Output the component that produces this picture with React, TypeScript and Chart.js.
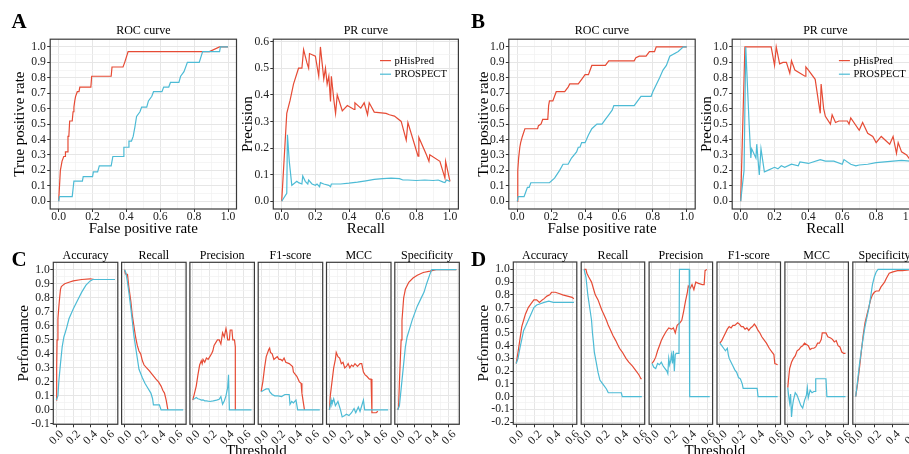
import React, { useEffect, useRef } from "react";
import { Chart, registerables } from "chart.js";

Chart.register(...registerables);

type Pt = [number, number];

// ================= DATA =================
// Panel A – ROC
const A_ROC_PHISPRED: Pt[] = [[0,0],[0.005,0.1],[0.01,0.2],[0.015,0.23],[0.02,0.26],[0.03,0.29],[0.04,0.29],[0.04,0.32],[0.05,0.32],[0.055,0.42],[0.06,0.42],[0.065,0.52],[0.08,0.52],[0.085,0.58],[0.09,0.61],[0.095,0.65],[0.1,0.68],[0.11,0.71],[0.12,0.71],[0.125,0.74],[0.19,0.74],[0.195,0.81],[0.31,0.81],[0.315,0.87],[0.38,0.87],[0.39,0.9],[0.41,0.97],[0.89,0.97],[0.95,1.0],[1.0,1.0]];
const A_ROC_PROSPECT: Pt[] = [[0,0],[0.005,0.03],[0.08,0.03],[0.09,0.13],[0.14,0.13],[0.145,0.16],[0.2,0.16],[0.205,0.19],[0.23,0.19],[0.24,0.23],[0.31,0.23],[0.32,0.29],[0.38,0.29],[0.385,0.35],[0.41,0.35],[0.415,0.39],[0.43,0.39],[0.44,0.42],[0.45,0.48],[0.46,0.55],[0.48,0.58],[0.49,0.61],[0.52,0.61],[0.53,0.65],[0.55,0.68],[0.56,0.71],[0.61,0.71],[0.62,0.74],[0.65,0.74],[0.66,0.77],[0.71,0.77],[0.72,0.81],[0.74,0.84],[0.76,0.9],[0.83,0.9],[0.85,0.97],[0.95,0.97],[0.955,1.0],[1.0,1.0]];
// Panel A – PR
const A_PR_PHISPRED: Pt[] = [[0,0],[0.03,0.33],[0.05,0.38],[0.07,0.44],[0.1,0.5],[0.12,0.5],[0.13,0.57],[0.15,0.52],[0.16,0.5],[0.165,0.555],[0.2,0.545],[0.22,0.47],[0.23,0.58],[0.24,0.52],[0.25,0.46],[0.26,0.5],[0.27,0.44],[0.28,0.47],[0.29,0.375],[0.295,0.47],[0.31,0.38],[0.32,0.33],[0.33,0.4],[0.36,0.34],[0.39,0.36],[0.43,0.345],[0.435,0.37],[0.47,0.35],[0.49,0.37],[0.51,0.325],[0.52,0.37],[0.55,0.335],[0.62,0.33],[0.64,0.325],[0.67,0.32],[0.71,0.3],[0.74,0.23],[0.75,0.296],[0.81,0.17],[0.815,0.24],[0.86,0.175],[0.875,0.15],[0.88,0.175],[0.94,0.15],[0.97,0.087],[0.974,0.15],[1.0,0.075]];
const A_PR_PROSPECT: Pt[] = [[0,0],[0.03,0.03],[0.034,0.25],[0.045,0.15],[0.06,0.06],[0.07,0.065],[0.09,0.075],[0.1,0.07],[0.12,0.065],[0.125,0.095],[0.14,0.075],[0.155,0.065],[0.16,0.08],[0.18,0.065],[0.2,0.06],[0.21,0.065],[0.225,0.055],[0.23,0.07],[0.25,0.065],[0.28,0.06],[0.29,0.055],[0.295,0.065],[0.35,0.065],[0.4,0.068],[0.45,0.072],[0.5,0.077],[0.55,0.082],[0.6,0.085],[0.65,0.087],[0.7,0.085],[0.72,0.08],[0.75,0.08],[0.8,0.078],[0.85,0.08],[0.9,0.078],[0.93,0.08],[0.96,0.072],[0.97,0.07],[0.98,0.08],[1.0,0.075]];
// Panel B – ROC
const B_ROC_PHISPRED: Pt[] = [[0,0],[0.003,0.2],[0.008,0.28],[0.015,0.35],[0.02,0.38],[0.03,0.42],[0.045,0.47],[0.12,0.47],[0.125,0.49],[0.14,0.5],[0.15,0.53],[0.18,0.53],[0.185,0.62],[0.19,0.65],[0.21,0.65],[0.22,0.68],[0.23,0.71],[0.28,0.71],[0.3,0.74],[0.31,0.76],[0.36,0.76],[0.38,0.79],[0.4,0.82],[0.42,0.82],[0.43,0.85],[0.44,0.88],[0.52,0.88],[0.54,0.91],[0.69,0.91],[0.7,0.93],[0.72,0.94],[0.76,0.94],[0.78,0.97],[0.81,0.97],[0.82,1.0],[1.0,1.0]];
const B_ROC_PROSPECT: Pt[] = [[0,0],[0.005,0.03],[0.04,0.03],[0.05,0.06],[0.06,0.09],[0.07,0.09],[0.08,0.12],[0.19,0.12],[0.22,0.15],[0.25,0.2],[0.27,0.24],[0.3,0.24],[0.32,0.28],[0.35,0.32],[0.36,0.35],[0.37,0.35],[0.38,0.38],[0.4,0.38],[0.42,0.43],[0.44,0.47],[0.47,0.5],[0.5,0.5],[0.52,0.53],[0.54,0.56],[0.56,0.59],[0.57,0.62],[0.69,0.62],[0.73,0.68],[0.79,0.68],[0.8,0.71],[0.84,0.8],[0.86,0.85],[0.88,0.88],[0.9,0.94],[0.95,0.97],[0.98,1.0],[1.0,1.0]];
// Panel B – PR
const B_PR_PHISPRED: Pt[] = [[0,0],[0.025,1.0],[0.18,1.0],[0.2,0.88],[0.21,1.0],[0.23,0.89],[0.25,0.9],[0.27,0.9],[0.29,0.83],[0.3,0.91],[0.32,0.85],[0.38,0.81],[0.385,0.87],[0.4,0.85],[0.44,0.79],[0.46,0.64],[0.47,0.57],[0.475,0.76],[0.49,0.6],[0.5,0.55],[0.53,0.5],[0.54,0.56],[0.56,0.51],[0.58,0.52],[0.63,0.52],[0.64,0.5],[0.65,0.54],[0.7,0.46],[0.72,0.51],[0.75,0.44],[0.78,0.42],[0.8,0.38],[0.83,0.42],[0.88,0.37],[0.9,0.42],[0.92,0.31],[0.93,0.38],[0.95,0.32],[0.98,0.3],[1.0,0.27]];
const B_PR_PROSPECT: Pt[] = [[0,0],[0.02,0.2],[0.03,1.0],[0.05,0.5],[0.06,0.28],[0.065,0.34],[0.09,0.28],[0.095,0.37],[0.11,0.17],[0.12,0.34],[0.14,0.19],[0.16,0.2],[0.2,0.22],[0.22,0.21],[0.24,0.23],[0.26,0.22],[0.3,0.24],[0.34,0.23],[0.35,0.255],[0.4,0.245],[0.47,0.27],[0.5,0.26],[0.55,0.26],[0.6,0.24],[0.61,0.27],[0.65,0.24],[0.68,0.23],[0.7,0.235],[0.75,0.24],[0.8,0.25],[0.9,0.26],[0.95,0.265],[1.0,0.26]];

// Panel C – metrics vs threshold
const C_ACC_PHISPRED: Pt[] = [[0,0.07],[0.005,0.3],[0.01,0.5],[0.02,0.65],[0.03,0.73],[0.04,0.8],[0.05,0.86],[0.06,0.88],[0.08,0.89],[0.1,0.9],[0.15,0.91],[0.2,0.92],[0.3,0.93],[0.4,0.935],[0.45,0.93],[0.69,0.93]];
const C_ACC_PROSPECT: Pt[] = [[0,0.07],[0.02,0.1],[0.03,0.2],[0.05,0.33],[0.07,0.45],[0.09,0.52],[0.12,0.58],[0.15,0.65],[0.2,0.72],[0.25,0.78],[0.3,0.84],[0.35,0.89],[0.4,0.92],[0.43,0.93],[0.69,0.93]];
const C_REC_PHISPRED: Pt[] = [[0,1],[0.01,0.97],[0.035,0.965],[0.05,0.88],[0.075,0.77],[0.09,0.68],[0.11,0.6],[0.13,0.52],[0.15,0.46],[0.17,0.42],[0.19,0.4],[0.21,0.35],[0.23,0.32],[0.26,0.3],[0.29,0.28],[0.33,0.25],[0.37,0.22],[0.4,0.2],[0.43,0.17],[0.45,0.14],[0.47,0.12],[0.49,0.07],[0.51,0.0]];
const C_REC_PROSPECT: Pt[] = [[0,1],[0.015,0.98],[0.03,0.93],[0.055,0.82],[0.075,0.72],[0.094,0.62],[0.11,0.53],[0.13,0.45],[0.15,0.37],[0.17,0.29],[0.19,0.26],[0.21,0.23],[0.24,0.19],[0.27,0.16],[0.31,0.12],[0.33,0.08],[0.34,0.036],[0.41,0.036],[0.43,0],[0.69,0]];
const C_PRE_PHISPRED: Pt[] = [[0,0.07],[0.02,0.12],[0.04,0.17],[0.06,0.25],[0.08,0.32],[0.1,0.35],[0.11,0.33],[0.12,0.36],[0.14,0.34],[0.16,0.37],[0.18,0.36],[0.2,0.38],[0.22,0.4],[0.235,0.42],[0.25,0.46],[0.27,0.48],[0.29,0.5],[0.31,0.5],[0.33,0.47],[0.35,0.55],[0.37,0.52],[0.39,0.58],[0.4,0.55],[0.41,0.5],[0.43,0.5],[0.44,0.57],[0.46,0.57],[0.47,0.5],[0.49,0.5],[0.5,0.45],[0.5,0]];
const C_PRE_PROSPECT: Pt[] = [[0,0.076],[0.02,0.08],[0.04,0.088],[0.06,0.08],[0.08,0.076],[0.1,0.07],[0.12,0.072],[0.14,0.065],[0.16,0.064],[0.2,0.06],[0.24,0.064],[0.28,0.07],[0.31,0.076],[0.33,0.095],[0.35,0.04],[0.37,0.064],[0.39,0.1],[0.41,0.16],[0.42,0.25],[0.43,0],[0.69,0]];
const C_F1_PHISPRED: Pt[] = [[0,0.13],[0.02,0.2],[0.04,0.3],[0.06,0.38],[0.09,0.43],[0.1,0.44],[0.11,0.41],[0.13,0.4],[0.15,0.36],[0.17,0.37],[0.19,0.38],[0.21,0.36],[0.23,0.36],[0.25,0.35],[0.27,0.37],[0.29,0.34],[0.33,0.33],[0.37,0.31],[0.38,0.27],[0.42,0.24],[0.45,0.2],[0.47,0.19],[0.48,0.12],[0.5,0.04],[0.51,0]];
const C_F1_PROSPECT: Pt[] = [[0,0.13],[0.03,0.14],[0.06,0.15],[0.09,0.15],[0.1,0.13],[0.13,0.11],[0.16,0.1],[0.2,0.1],[0.24,0.095],[0.28,0.11],[0.33,0.11],[0.34,0.04],[0.36,0.06],[0.38,0.05],[0.41,0.07],[0.43,0.0],[0.69,0]];
const C_MCC_PHISPRED: Pt[] = [[0,0],[0.01,0.1],[0.03,0.2],[0.05,0.3],[0.07,0.36],[0.08,0.41],[0.1,0.38],[0.12,0.37],[0.14,0.33],[0.16,0.34],[0.18,0.3],[0.2,0.31],[0.22,0.33],[0.24,0.3],[0.26,0.32],[0.28,0.31],[0.3,0.33],[0.33,0.31],[0.36,0.33],[0.38,0.33],[0.4,0.27],[0.42,0.25],[0.44,0.24],[0.47,0.22],[0.49,0.22],[0.5,-0.02],[0.55,-0.02],[0.57,-0.01]];
const C_MCC_PROSPECT: Pt[] = [[0,0],[0.02,0.07],[0.03,0.04],[0.05,0.08],[0.07,0.03],[0.1,0.06],[0.13,0.0],[0.15,-0.05],[0.18,-0.04],[0.2,-0.03],[0.23,-0.04],[0.26,-0.02],[0.29,0.01],[0.31,-0.02],[0.34,0.02],[0.36,-0.01],[0.38,0.03],[0.4,0.07],[0.415,0.0],[0.69,0.0]];
const C_SPE_PHISPRED: Pt[] = [[0,0],[0.01,0.02],[0.02,0.2],[0.03,0.35],[0.04,0.5],[0.05,0.64],[0.07,0.8],[0.09,0.86],[0.13,0.91],[0.18,0.94],[0.23,0.96],[0.3,0.98],[0.38,0.99],[0.45,1.0],[0.69,1.0]];
const C_SPE_PROSPECT: Pt[] = [[0,0],[0.02,0.03],[0.04,0.15],[0.07,0.33],[0.09,0.45],[0.11,0.52],[0.14,0.58],[0.17,0.64],[0.2,0.69],[0.23,0.74],[0.27,0.79],[0.31,0.84],[0.34,0.9],[0.38,0.97],[0.4,1.0],[0.69,1.0]];

// Panel D – metrics vs threshold
const D_ACC_PHISPRED: Pt[] = [[0,0.26],[0.02,0.35],[0.04,0.45],[0.06,0.55],[0.08,0.6],[0.1,0.65],[0.13,0.7],[0.16,0.73],[0.19,0.76],[0.22,0.76],[0.25,0.74],[0.28,0.76],[0.3,0.77],[0.33,0.79],[0.36,0.8],[0.38,0.82],[0.42,0.82],[0.46,0.81],[0.5,0.8],[0.55,0.79],[0.6,0.78],[0.62,0.77]];
const D_ACC_PROSPECT: Pt[] = [[0,0.26],[0.02,0.3],[0.04,0.38],[0.06,0.45],[0.08,0.52],[0.1,0.55],[0.13,0.6],[0.16,0.65],[0.19,0.7],[0.22,0.72],[0.26,0.73],[0.3,0.74],[0.35,0.75],[0.4,0.74],[0.5,0.74],[0.62,0.74]];
const D_REC_PHISPRED: Pt[] = [[0,1],[0.02,1],[0.03,0.97],[0.05,0.94],[0.08,0.9],[0.1,0.85],[0.12,0.8],[0.15,0.76],[0.17,0.72],[0.19,0.68],[0.21,0.65],[0.24,0.6],[0.26,0.56],[0.28,0.53],[0.31,0.48],[0.34,0.44],[0.36,0.41],[0.38,0.38],[0.41,0.35],[0.45,0.3],[0.48,0.27],[0.52,0.24],[0.55,0.21],[0.59,0.17],[0.61,0.14],[0.62,0.14]];
const D_REC_PROSPECT: Pt[] = [[0,1],[0.02,0.94],[0.04,0.8],[0.06,0.7],[0.08,0.6],[0.09,0.5],[0.1,0.43],[0.11,0.35],[0.13,0.27],[0.15,0.19],[0.17,0.13],[0.19,0.11],[0.21,0.09],[0.24,0.06],[0.26,0.03],[0.4,0.03],[0.41,0],[0.62,0]];
const D_PRE_PHISPRED: Pt[] = [[0,0.26],[0.02,0.28],[0.04,0.31],[0.06,0.36],[0.08,0.4],[0.1,0.44],[0.12,0.47],[0.15,0.51],[0.18,0.54],[0.21,0.53],[0.23,0.54],[0.25,0.5],[0.27,0.56],[0.3,0.58],[0.32,0.6],[0.34,0.67],[0.36,0.75],[0.38,0.82],[0.39,0.87],[0.41,0.85],[0.43,0.88],[0.45,0.84],[0.47,0.9],[0.5,0.89],[0.54,0.88],[0.56,0.88],[0.57,0.99],[0.59,1.0]];
const D_PRE_PROSPECT: Pt[] = [[0,0.26],[0.02,0.23],[0.04,0.22],[0.06,0.26],[0.08,0.25],[0.1,0.27],[0.12,0.24],[0.14,0.22],[0.16,0.2],[0.17,0.18],[0.18,0.3],[0.19,0.25],[0.2,0.28],[0.21,0.33],[0.22,0.26],[0.23,0.36],[0.24,0.2],[0.25,0.33],[0.26,0.34],[0.29,0.34],[0.295,1.0],[0.4,1.0],[0.405,0],[0.62,0]];
const D_F1_PHISPRED: Pt[] = [[0,0.42],[0.02,0.44],[0.04,0.47],[0.06,0.5],[0.08,0.53],[0.1,0.55],[0.12,0.54],[0.14,0.56],[0.16,0.56],[0.19,0.58],[0.21,0.57],[0.23,0.55],[0.25,0.55],[0.27,0.53],[0.29,0.54],[0.31,0.52],[0.33,0.54],[0.35,0.55],[0.37,0.57],[0.39,0.55],[0.41,0.52],[0.43,0.5],[0.45,0.47],[0.48,0.44],[0.5,0.42],[0.53,0.38],[0.56,0.35],[0.58,0.33],[0.59,0.26],[0.62,0.25]];
const D_F1_PROSPECT: Pt[] = [[0,0.42],[0.02,0.4],[0.04,0.38],[0.06,0.36],[0.08,0.38],[0.09,0.33],[0.1,0.3],[0.12,0.27],[0.14,0.24],[0.16,0.21],[0.18,0.19],[0.2,0.15],[0.22,0.14],[0.24,0.1],[0.25,0.065],[0.4,0.065],[0.41,0],[0.62,0]];
const D_MCC_PHISPRED: Pt[] = [[0,0.07],[0.01,0.15],[0.02,0.22],[0.04,0.27],[0.06,0.3],[0.08,0.32],[0.1,0.36],[0.12,0.37],[0.14,0.39],[0.16,0.4],[0.18,0.42],[0.2,0.41],[0.22,0.4],[0.24,0.37],[0.26,0.38],[0.28,0.38],[0.3,0.39],[0.32,0.42],[0.34,0.42],[0.36,0.45],[0.37,0.5],[0.41,0.5],[0.43,0.47],[0.46,0.46],[0.48,0.45],[0.5,0.43],[0.52,0.44],[0.54,0.4],[0.56,0.39],[0.58,0.35],[0.6,0.34],[0.62,0.34]];
const D_MCC_PROSPECT: Pt[] = [[0,0.07],[0.01,0],[0.02,-0.05],[0.03,0.02],[0.04,-0.16],[0.05,-0.08],[0.06,-0.03],[0.08,0.03],[0.1,0.01],[0.12,-0.03],[0.14,-0.07],[0.16,-0.09],[0.18,-0.03],[0.2,0.01],[0.21,0.07],[0.22,-0.01],[0.24,0.05],[0.26,0.03],[0.28,0.04],[0.3,0.04],[0.3,0.14],[0.41,0.14],[0.42,0],[0.62,0]];
const D_SPE_PHISPRED: Pt[] = [[0,0],[0.02,0.1],[0.04,0.22],[0.06,0.35],[0.08,0.48],[0.1,0.58],[0.12,0.64],[0.14,0.7],[0.16,0.76],[0.18,0.8],[0.2,0.82],[0.22,0.83],[0.25,0.83],[0.27,0.86],[0.29,0.88],[0.31,0.9],[0.33,0.93],[0.36,0.97],[0.4,0.98],[0.45,0.99],[0.5,0.99],[0.62,1.0]];
const D_SPE_PROSPECT: Pt[] = [[0,0],[0.02,0.12],[0.04,0.25],[0.06,0.36],[0.08,0.46],[0.1,0.55],[0.12,0.62],[0.14,0.69],[0.16,0.78],[0.18,0.88],[0.2,0.94],[0.22,0.98],[0.24,1.0],[0.62,1.0]];

// ================= TICKS / LABELS =================
const UNIT_MAJOR_X = [0, 0.2, 0.4, 0.6, 0.8, 1.0];
const UNIT_MINOR_X = [0.1, 0.3, 0.5, 0.7, 0.9];
const UNIT_MAJOR_Y = [0, 0.1, 0.2, 0.3, 0.4, 0.5, 0.6, 0.7, 0.8, 0.9, 1.0];
const UNIT_MINOR_Y = [0.05, 0.15, 0.25, 0.35, 0.45, 0.55, 0.65, 0.75, 0.85, 0.95];
const PR_A_MAJOR_Y = [0, 0.1, 0.2, 0.3, 0.4, 0.5, 0.6];
const PR_A_MINOR_Y = [0.05, 0.15, 0.25, 0.35, 0.45, 0.55];
const FACET_MAJOR_X = [0, 0.2, 0.4, 0.6];
const C_MINOR_X = [0.1, 0.3, 0.5, 0.7];
const D_MINOR_X = [0.1, 0.3, 0.5];
const C_MAJOR_Y = [-0.1, 0, 0.1, 0.2, 0.3, 0.4, 0.5, 0.6, 0.7, 0.8, 0.9, 1.0];
const C_MINOR_Y = [-0.05, 0.05, 0.15, 0.25, 0.35, 0.45, 0.55, 0.65, 0.75, 0.85, 0.95];
const D_MAJOR_Y = [-0.2, -0.1, 0, 0.1, 0.2, 0.3, 0.4, 0.5, 0.6, 0.7, 0.8, 0.9, 1.0];
const D_MINOR_Y = [-0.15, -0.05, 0.05, 0.15, 0.25, 0.35, 0.45, 0.55, 0.65, 0.75, 0.85, 0.95];
const METRICS = ["Accuracy", "Recall", "Precision", "F1-score", "MCC", "Specificity"];
const SERIES_NAMES = ["pHisPred", "PROSPECT"];

const C_SERIES: [Pt[], Pt[]][] = [
  [C_ACC_PHISPRED, C_ACC_PROSPECT], [C_REC_PHISPRED, C_REC_PROSPECT], [C_PRE_PHISPRED, C_PRE_PROSPECT],
  [C_F1_PHISPRED, C_F1_PROSPECT], [C_MCC_PHISPRED, C_MCC_PROSPECT], [C_SPE_PHISPRED, C_SPE_PROSPECT],
];
const D_SERIES: [Pt[], Pt[]][] = [
  [D_ACC_PHISPRED, D_ACC_PROSPECT], [D_REC_PHISPRED, D_REC_PROSPECT], [D_PRE_PHISPRED, D_PRE_PROSPECT],
  [D_F1_PHISPRED, D_F1_PROSPECT], [D_MCC_PHISPRED, D_MCC_PROSPECT], [D_SPE_PHISPRED, D_SPE_PROSPECT],
];

// ================= STYLE =================
const RED = "#E64B35";
const CYAN = "#4DBBD5";
const SERIF = "'Liberation Serif', 'Times New Roman', Times, serif";
const GRID_MAJOR = "#E6E6E6";
const GRID_MINOR = "#F1F1F1";
const TICK_COLOR = "#333333";
const TICK_TEXT = "#222222";
const BORDER = "#3a3a3a";
const CW = 940;
const CH = 454;
const TICK_SIZE = 11.7;

interface Txt { text: string; x: number; y: number; size: number; bold?: boolean; align?: CanvasTextAlign; }
interface Panel {
  id: string;
  box: [number, number, number, number];
  xRange: [number, number];
  yRange: [number, number];
  xMajor: number[]; xMinor: number[];
  yMajor: number[]; yMinor: number[];
  red: Pt[]; cyan: Pt[];
  yLabels: boolean;
  yTitle?: string; yTitleX?: number;
  xTitle?: string; xTitleY?: number;
  rotateX?: boolean;
  heading: string; headingGap: number;
  legend?: boolean;
  texts?: Txt[];
}

const isMajor = (arr: number[], v: any) => typeof v === "number" && arr.some((m) => Math.abs(m - v) < 1e-9);

// ================= PANELS =================
const TOP_T = 39.2, TOP_B = 209;
const C_LEFT0 = 53.3, C_PITCH = 68.3, C_W = 64.5, C_TOP = 262.3, C_BOTTOM = 424.3;
const D_LEFT0 = 513.3, D_PITCH = 67.9, D_W = 63.5, D_TOP = 262, D_BOTTOM = 424.3;

const PANELS: Panel[] = [
  {
    id: "aroc", box: [50.2, TOP_T, 236.5, TOP_B], xRange: [-0.05, 1.05], yRange: [-0.05, 1.05],
    xMajor: UNIT_MAJOR_X, xMinor: UNIT_MINOR_X, yMajor: UNIT_MAJOR_Y, yMinor: UNIT_MINOR_Y,
    red: A_ROC_PHISPRED, cyan: A_ROC_PROSPECT, yLabels: true,
    yTitle: "True positive rate", yTitleX: 20, xTitle: "False positive rate", xTitleY: 229,
    heading: "ROC curve", headingGap: 5.7,
    texts: [{ text: "A", x: 11.5, y: 27.5, size: 21, bold: true }],
  },
  {
    id: "apr", box: [273.3, TOP_T, 458.4, TOP_B], xRange: [-0.05, 1.05], yRange: [-0.029, 0.609],
    xMajor: UNIT_MAJOR_X, xMinor: UNIT_MINOR_X, yMajor: PR_A_MAJOR_Y, yMinor: PR_A_MINOR_Y,
    red: A_PR_PHISPRED, cyan: A_PR_PROSPECT, yLabels: true,
    yTitle: "Precision", yTitleX: 248, xTitle: "Recall", xTitleY: 229,
    heading: "PR curve", headingGap: 5.7, legend: true,
  },
  {
    id: "broc", box: [508.8, TOP_T, 695.2, TOP_B], xRange: [-0.05, 1.05], yRange: [-0.05, 1.05],
    xMajor: UNIT_MAJOR_X, xMinor: UNIT_MINOR_X, yMajor: UNIT_MAJOR_Y, yMinor: UNIT_MINOR_Y,
    red: B_ROC_PHISPRED, cyan: B_ROC_PROSPECT, yLabels: true,
    yTitle: "True positive rate", yTitleX: 484, xTitle: "False positive rate", xTitleY: 229,
    heading: "ROC curve", headingGap: 5.7,
    texts: [{ text: "B", x: 471, y: 27.5, size: 21, bold: true }],
  },
  {
    id: "bpr", box: [732.2, TOP_T, 918.5, TOP_B], xRange: [-0.05, 1.05], yRange: [-0.05, 1.05],
    xMajor: UNIT_MAJOR_X, xMinor: UNIT_MINOR_X, yMajor: UNIT_MAJOR_Y, yMinor: UNIT_MINOR_Y,
    red: B_PR_PHISPRED, cyan: B_PR_PROSPECT, yLabels: true,
    yTitle: "Precision", yTitleX: 707, xTitle: "Recall", xTitleY: 229,
    heading: "PR curve", headingGap: 5.7, legend: true,
  },
  ...METRICS.map((m, i): Panel => {
    const L = C_LEFT0 + i * C_PITCH;
    return {
      id: "c" + i, box: [L, C_TOP, L + C_W, C_BOTTOM], xRange: [-0.0345, 0.7245], yRange: [-0.1025, 1.0525],
      xMajor: FACET_MAJOR_X, xMinor: C_MINOR_X, yMajor: C_MAJOR_Y, yMinor: C_MINOR_Y,
      red: C_SERIES[i][0], cyan: C_SERIES[i][1], yLabels: i === 0,
      yTitle: i === 0 ? "Performance" : undefined, yTitleX: 24, rotateX: true,
      heading: m, headingGap: 3,
      texts: i === 0 ? [
        { text: "C", x: 11.5, y: 265.5, size: 21, bold: true },
        { text: "Threshold", x: (C_LEFT0 + C_LEFT0 + 5 * C_PITCH + C_W) / 2, y: 454.5, size: 15, align: "center" },
      ] : undefined,
    };
  }),
  ...METRICS.map((m, i): Panel => {
    const L = D_LEFT0 + i * D_PITCH;
    return {
      id: "d" + i, box: [L, D_TOP, L + D_W, D_BOTTOM], xRange: [-0.031, 0.651], yRange: [-0.218, 1.058],
      xMajor: FACET_MAJOR_X, xMinor: D_MINOR_X, yMajor: D_MAJOR_Y, yMinor: D_MINOR_Y,
      red: D_SERIES[i][0], cyan: D_SERIES[i][1], yLabels: i === 0,
      yTitle: i === 0 ? "Performance" : undefined, yTitleX: 484, rotateX: true,
      heading: m, headingGap: 3,
      texts: i === 0 ? [
        { text: "D", x: 471, y: 265.5, size: 21, bold: true },
        { text: "Threshold", x: (D_LEFT0 + D_LEFT0 + 5 * D_PITCH + D_W) / 2, y: 454.5, size: 15, align: "center" },
      ] : undefined,
    };
  }),
];

// ================= CHART CONFIG =================
function decorPlugin(p: Panel) {
  return {
    id: "decor_" + p.id,
    afterDatasetsDraw(chart: any) {
      const { ctx, chartArea: a } = chart;
      ctx.save();
      ctx.strokeStyle = BORDER;
      ctx.lineWidth = 1.2;
      ctx.strokeRect(a.left, a.top, a.right - a.left, a.bottom - a.top);
      if (p.legend) {
        const lx = a.left + 106.7;
        const rows: [string, string, number][] = [
          [SERIES_NAMES[0], RED, a.top + 21.4],
          [SERIES_NAMES[1], CYAN, a.top + 35],
        ];
        ctx.font = `10.6px ${SERIF}`;
        ctx.textAlign = "left";
        ctx.textBaseline = "middle";
        for (const [name, col, yy] of rows) {
          ctx.strokeStyle = col;
          ctx.lineWidth = 1.2;
          ctx.beginPath();
          ctx.moveTo(lx, yy);
          ctx.lineTo(lx + 11, yy);
          ctx.stroke();
          ctx.fillStyle = "#000";
          ctx.fillText(name, lx + 14.5, yy + 0.5);
        }
      }
      ctx.restore();
    },
    afterDraw(chart: any) {
      const { ctx, chartArea: a } = chart;
      ctx.save();
      ctx.fillStyle = "#000";
      ctx.textBaseline = "alphabetic";
      ctx.textAlign = "center";
      ctx.font = `12px ${SERIF}`;
      ctx.fillText(p.heading, (a.left + a.right) / 2, a.top - p.headingGap);
      for (const t of p.texts || []) {
        ctx.font = `${t.bold ? "bold " : ""}${t.size}px ${SERIF}`;
        ctx.textAlign = t.align || "left";
        ctx.fillText(t.text, t.x, t.y);
      }
      ctx.restore();
    },
  };
}

function makeConfig(p: Panel): any {
  const [L, T, R, B] = p.box;
  const YW = p.yLabels ? 45 : 0;
  const XH = p.rotateX ? 24 : 40;
  const titleFont = { family: SERIF, size: 15, lineHeight: 1.2 };
  const tickFont = { family: SERIF, size: TICK_SIZE, lineHeight: 1 };
  const grid = (major: number[], ticksOn: boolean) => ({
    drawOnChartArea: true,
    drawTicks: ticksOn,
    tickLength: 3,
    color: (c: any) => (isMajor(major, c.tick?.value) ? GRID_MAJOR : GRID_MINOR),
    lineWidth: (c: any) => (isMajor(major, c.tick?.value) ? 1 : 0.7),
    tickColor: (c: any) => (isMajor(major, c.tick?.value) ? TICK_COLOR : "rgba(0,0,0,0)"),
    tickWidth: 1,
  });
  const xTicks = [...p.xMajor, ...p.xMinor].sort((a, b) => a - b);
  const yTicks = [...p.yMajor, ...p.yMinor].sort((a, b) => a - b);
  return {
    type: "line",
    data: {
      datasets: [
        { label: SERIES_NAMES[0], data: p.red.map(([x, y]) => ({ x, y })), borderColor: RED, backgroundColor: RED, borderWidth: 1.2, pointRadius: 0, fill: false, tension: 0, order: 1 },
        { label: SERIES_NAMES[1], data: p.cyan.map(([x, y]) => ({ x, y })), borderColor: CYAN, backgroundColor: CYAN, borderWidth: 1.2, pointRadius: 0, fill: false, tension: 0, order: 0 },
      ],
    },
    options: {
      responsive: false,
      animation: false,
      devicePixelRatio: 1,
      events: [],
      layout: { padding: { left: L - YW, top: T, right: CW - R, bottom: CH - B - XH } },
      plugins: { legend: { display: false }, tooltip: { enabled: false }, title: { display: false } },
      scales: {
        x: {
          type: "linear",
          min: p.xRange[0],
          max: p.xRange[1],
          afterBuildTicks: (s: any) => { s.ticks = xTicks.map((v) => ({ value: v })); },
          afterFit: (s: any) => { s.height = XH; },
          ticks: {
            autoSkip: false,
            font: tickFont,
            color: TICK_TEXT,
            padding: p.rotateX ? 1 : -0.5,
            labelOffset: p.rotateX ? 5.5 : 0,
            minRotation: p.rotateX ? 45 : 0,
            maxRotation: p.rotateX ? 45 : 0,
            callback: (v: any) => (isMajor(p.xMajor, v) ? Number(v).toFixed(1) : ""),
          },
          grid: grid(p.xMajor, true),
          border: { display: false },
          title: p.xTitle
            ? { display: true, text: p.xTitle, font: titleFont, color: "#000", padding: { top: 0, bottom: B + XH - 9 - (p.xTitleY as number) } }
            : { display: false },
        },
        y: {
          type: "linear",
          min: p.yRange[0],
          max: p.yRange[1],
          afterBuildTicks: (s: any) => { s.ticks = yTicks.map((v) => ({ value: v })); },
          afterFit: (s: any) => { s.width = YW; },
          ticks: {
            display: p.yLabels,
            autoSkip: false,
            font: tickFont,
            color: TICK_TEXT,
            padding: p.rotateX ? 0.5 : 1.3,
            callback: (v: any) => (isMajor(p.yMajor, v) ? Number(v).toFixed(1) : ""),
          },
          grid: grid(p.yMajor, p.yLabels),
          border: { display: false },
          title: p.yTitle
            ? { display: true, text: p.yTitle, font: titleFont, color: "#000", padding: { top: (p.yTitleX as number) - (L - YW) - 9, bottom: 0 } }
            : { display: false },
        },
      },
    },
    plugins: [decorPlugin(p)],
  };
}

function PanelCanvas({ panel }: { panel: Panel }) {
  const ref = useRef<HTMLCanvasElement | null>(null);
  useEffect(() => {
    if (!ref.current) return;
    const chart = new Chart(ref.current, makeConfig(panel));
    return () => chart.destroy();
  }, [panel]);
  return (
    <canvas
      ref={ref}
      width={CW}
      height={CH}
      style={{ position: "absolute", left: 0, top: 0, width: CW, height: CH }}
    />
  );
}

export default function App() {
  return (
    <div
      style={{
        position: "fixed",
        left: 0,
        top: 0,
        width: 909,
        height: 454,
        overflow: "hidden",
        background: "#ffffff",
      }}
    >
      {PANELS.map((p) => (
        <PanelCanvas key={p.id} panel={p} />
      ))}
    </div>
  );
}
